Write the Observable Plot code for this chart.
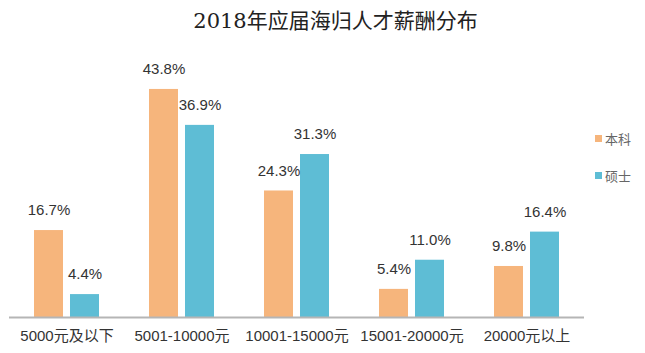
<!DOCTYPE html>
<html>
<head>
<meta charset="utf-8">
<script src="https://cdn.jsdelivr.net/npm/d3@7"></script>
<script src="https://cdn.jsdelivr.net/npm/@observablehq/plot@0.6"></script>
<style>
  body { margin: 0; background: #fff; }
  #wrap { position: relative; width: 645px; height: 353px; overflow: hidden; }
  #title { position: absolute; left: 0; top: 6px; width: 645px; padding-left: 26px; box-sizing: border-box; text-align: center;
    font-family: "DejaVu Serif", "Liberation Serif", "Noto Sans CJK SC", serif; font-size: 21px; color: #222; height: 39px; line-height: 30px; }
  #chart { position: absolute; left: 0; top: 45px; }
  #legend { position: absolute; left: 595px; top: 128px; font-family: "Noto Sans CJK SC", sans-serif; font-size: 13px; color: #666; }
  #legend div { display: flex; align-items: center; height: 20px; margin-bottom: 17px; }
  #legend span.sw { display: inline-block; width: 7px; height: 7px; margin-right: 3px; }
</style>
</head>
<body>
<div id="wrap">
  <div id="title">2018年应届海归人才薪酬分布</div>
  <div id="chart"></div>
  <div id="legend"></div>
</div>
<script>
const categories = ["5000元及以下", "5001-10000元", "10001-15000元", "15001-20000元", "20000元以上"];
const seriesNames = ["本科", "硕士"];
const bachelor = [16.7, 43.8, 24.3, 5.4, 9.8];
const master = [4.4, 36.9, 31.3, 11.0, 16.4];
const colors = ["#F6B57C", "#5EBDD5"];

const data = [];
categories.forEach((c, i) => {
  data.push({category: c, series: seriesNames[0], value: bachelor[i]});
  data.push({category: c, series: seriesNames[1], value: master[i]});
});

const plot = Plot.plot({
  width: 645,
  height: 308,
  marginLeft: 9,
  marginRight: 61,
  marginTop: 20,
  marginBottom: 36,
  fx: {domain: categories, padding: 0, label: null},
  x: {domain: seriesNames, paddingInner: 0.194, paddingOuter: 0.694, axis: null},
  y: {domain: [0, 48.4], axis: null},
  color: {domain: seriesNames, range: colors},
  style: {fontFamily: "Liberation Sans, Arial, 'Noto Sans CJK SC', sans-serif"},
  marks: [
    Plot.barY(data, {fx: "category", x: "series", y: "value", fill: "series"}),
    Plot.text(data, {fx: "category", x: "series", y: "value", text: d => d.value.toFixed(1) + "%",
      dy: -20, lineAnchor: "middle", fontSize: 15, fill: "#333"}),
    Plot.ruleY([0], {stroke: "#b5b5b5", strokeWidth: 2}),
    Plot.axisFx({anchor: "bottom", tickSize: 0, tickPadding: 13, fontSize: 15, label: null, fill: "#333",
      fontFamily: "Liberation Sans, Arial, 'Noto Sans CJK SC', sans-serif"})
  ]
});
document.getElementById("chart").appendChild(plot);

const legend = document.getElementById("legend");
seriesNames.forEach((s, i) => {
  const row = document.createElement("div");
  const sw = document.createElement("span");
  sw.className = "sw";
  sw.style.background = colors[i];
  row.appendChild(sw);
  row.appendChild(document.createTextNode(s));
  legend.appendChild(row);
});
</script>
</body>
</html>
